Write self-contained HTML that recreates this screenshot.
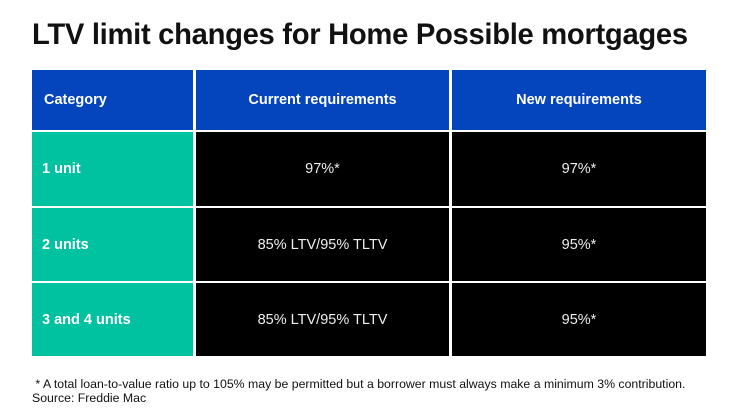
<!DOCTYPE html>
<html><head><style>
body{margin:0;width:740px;height:416px;background:#fff;font-family:"Liberation Sans",sans-serif;position:relative;overflow:hidden}
.t{position:absolute;left:32px;top:19px;font-size:29.2px;font-weight:bold;color:#111;letter-spacing:-0.3px}
.c{position:absolute;display:flex;align-items:center;font-size:14.5px;color:#fff}
.h{background:#0445bd;font-weight:bold}
.g{background:#00c2a0;font-weight:bold;padding-left:10px;box-sizing:border-box}
.k{background:#000;justify-content:center;color:#eee}
.ctr{justify-content:center}
.f{position:absolute;left:32px;top:377px;font-size:12.3px;color:#111;line-height:14px}
</style></head><body>
<div class="t">LTV limit changes for Home Possible mortgages</div>
<div class="c h" style="left:32px;top:70px;width:161px;height:60px;padding-left:12px;box-sizing:border-box">Category</div>
<div class="c h ctr" style="left:196px;top:70px;width:253px;height:60px">Current requirements</div>
<div class="c h ctr" style="left:452px;top:70px;width:254px;height:60px">New requirements</div>

<div class="c g" style="left:32px;top:132px;width:161px;height:74px">1 unit</div>
<div class="c k" style="left:196px;top:132px;width:253px;height:74px">97%*</div>
<div class="c k" style="left:452px;top:132px;width:254px;height:74px">97%*</div>

<div class="c g" style="left:32px;top:208px;width:161px;height:73px">2 units</div>
<div class="c k" style="left:196px;top:208px;width:253px;height:73px">85% LTV/95% TLTV</div>
<div class="c k" style="left:452px;top:208px;width:254px;height:73px">95%*</div>

<div class="c g" style="left:32px;top:283px;width:161px;height:73px">3 and 4 units</div>
<div class="c k" style="left:196px;top:283px;width:253px;height:73px">85% LTV/95% TLTV</div>
<div class="c k" style="left:452px;top:283px;width:254px;height:73px">95%*</div>

<div class="f">&nbsp;* A total loan-to-value ratio up to 105% may be permitted but a borrower must always make a minimum 3% contribution.<br>Source: Freddie Mac</div>
</body></html>
